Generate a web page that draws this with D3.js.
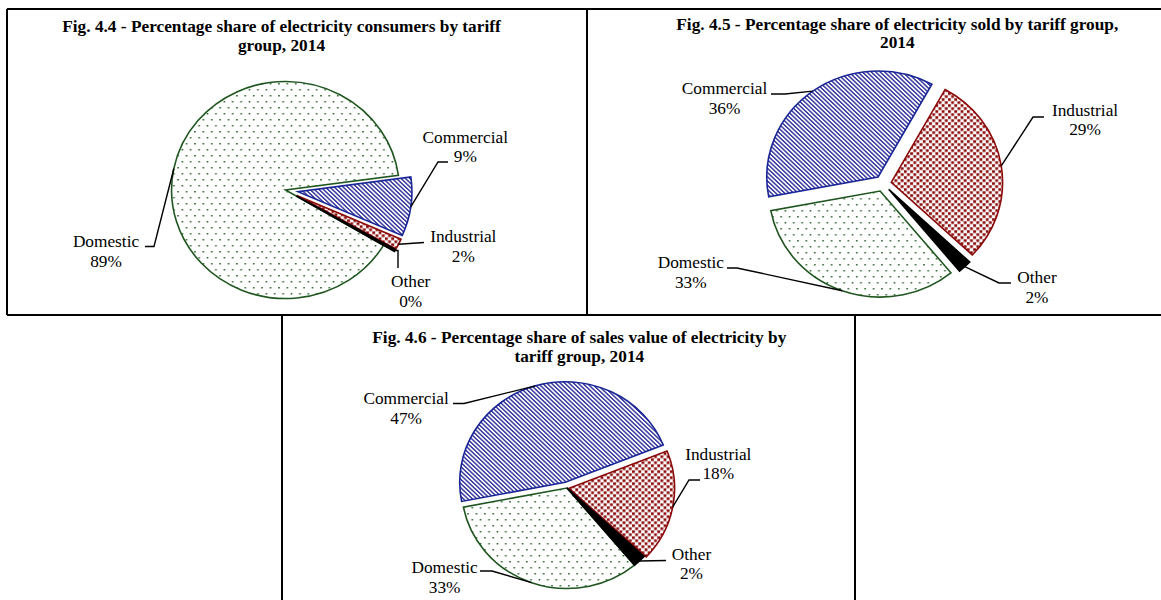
<!DOCTYPE html>
<html><head><meta charset="utf-8">
<script src="https://cdn.jsdelivr.net/npm/d3@7"></script>
<style>
body{margin:0;background:#fff}
text{font-family:"Liberation Serif","Times New Roman",serif;fill:#000}
</style>
</head><body>
<svg id="c" width="1161" height="600"></svg>
<script>
// ---- data ----
const categories = ["Domestic", "Commercial", "Industrial", "Other"];
const consumersShare = [89.3, 8.8, 1.6, 0.3];   // Fig 4.4 (labels round to 89, 9, 2, 0)
const soldShare = [33, 36, 29, 2];               // Fig 4.5
const salesValueShare = [33, 47, 18, 2];         // Fig 4.6
const titleLines44 = ["Fig. 4.4 - Percentage share of electricity consumers by tariff", "group, 2014"];
const titleLines45 = ["Fig. 4.5 - Percentage share of electricity sold by tariff group,", "2014"];
const titleLines46 = ["Fig. 4.6 - Percentage share of sales value of electricity by", "tariff group, 2014"];

// ---- layout / style ----
const SX = 1.05; // horizontal stretch of the original picture
const FS = 17.3;
const svg = d3.select("#c");
const defs = svg.append("defs");

// patterns
const pDom = defs.append("pattern").attr("id", "pDom").attr("patternUnits", "userSpaceOnUse")
  .attr("width", 8).attr("height", 12);
pDom.append("rect").attr("width", 8).attr("height", 12).attr("fill", "#fff");
pDom.append("rect").attr("x", 1).attr("y", 1).attr("width", 1.5).attr("height", 1.5).attr("fill", "#2a622a");
pDom.append("rect").attr("x", 5).attr("y", 7).attr("width", 1.5).attr("height", 1.5).attr("fill", "#2a622a");

const pCom = defs.append("pattern").attr("id", "pCom").attr("patternUnits", "userSpaceOnUse")
  .attr("width", 3).attr("height", 3).attr("patternTransform", "rotate(-45)");
pCom.append("rect").attr("width", 3).attr("height", 3).attr("fill", "#fff");
pCom.append("rect").attr("x", 0).attr("y", 0).attr("width", 1.4).attr("height", 3).attr("fill", "#33339a");

const pInd = defs.append("pattern").attr("id", "pInd").attr("patternUnits", "userSpaceOnUse")
  .attr("width", 6).attr("height", 6);
pInd.append("rect").attr("width", 6).attr("height", 6).attr("fill", "#fff");
pInd.append("rect").attr("x", 0).attr("y", 0).attr("width", 2.7).attr("height", 2.7).attr("fill", "#8b0d0d");
pInd.append("rect").attr("x", 3).attr("y", 3).attr("width", 2.7).attr("height", 2.7).attr("fill", "#8b0d0d");

const fills = d3.scaleOrdinal().domain(categories).range(["url(#pDom)", "url(#pCom)", "url(#pInd)", "#000"]);
const strokes = d3.scaleOrdinal().domain(categories).range(["#1f561f", "#1a2696", "#8b0a0a", "#000"]);

// frames
const frame = svg.append("g").attr("stroke", "#000").attr("stroke-width", 2).attr("fill", "none");
[[7, 9, 1161, 9], [7, 9, 7, 315], [7, 315, 1161, 315], [587, 9, 587, 315], [282, 315, 282, 600], [855, 315, 855, 600]]
  .forEach(l => frame.append("line").attr("x1", l[0]).attr("y1", l[1]).attr("x2", l[2]).attr("y2", l[3]));

const charts = [
  { values: consumersShare, title: titleLines44, tx: 281.5, ty: [31.7, 50.5],
    cx: 285.5, cy: 190, r: 108.5, start: 120.7, explode: [0, 12, 12, 12],
    labels: [[106, 247.3], [465.3, 142.7], [463.3, 242.3], [410.7, 287.3]],
    stubs: [[[154, 246.5], [145, 246.5]], [[438, 162], [448, 162]], [[424, 242.5]], [[398, 250.5], [398, 268]]] },
  { values: soldShare, title: titleLines45, tx: 897.3, ty: [29.8, 48.3],
    cx: 883, cy: 183.5, r: 106, start: 140.5, explode: [8, 8, 8, 8],
    labels: [[690.8, 268.3], [724.5, 94.3], [1085, 115.7], [1037, 283.3]],
    stubs: [[[737, 268], [727, 268]], [[785, 94], [771, 94]], [[1033, 117], [1044, 117]], [[999, 283], [1011, 283]]] },
  { values: salesValueShare, title: titleLines46, tx: 579.3, ty: [343.3, 361.7],
    cx: 567, cy: 488, r: 100.5, start: 140.2, explode: [0, 6, 2, 0],
    labels: [[444.6, 573.3], [406.1, 404.3], [718.3, 460], [691.5, 560]],
    stubs: [[[492, 571], [480, 571]], [[464, 403.5], [453, 403.5]], [[689, 480], [700, 480]], [[666, 560.5]]] }
];

const rad = Math.PI / 180;

charts.forEach(ch => {
  const pieGen = d3.pie().value(d => d.v).sort(null)
    .startAngle(ch.start * rad).endAngle(ch.start * rad + 2 * Math.PI);
  const slices = pieGen(ch.values.map((v, i) => ({ cat: categories[i], v })));
  const arc = d3.arc().innerRadius(0).outerRadius(ch.r);

  const g = svg.append("g").attr("transform", `translate(${ch.cx},${ch.cy}) scale(${SX},1)`);
  slices.forEach((s, i) => {
    const mid = (s.startAngle + s.endAngle) / 2;
    const e = ch.explode[i];
    g.append("path")
      .attr("d", arc(s))
      .attr("transform", `translate(${e * Math.sin(mid)},${-e * Math.cos(mid)})`)
      .attr("fill", fills(s.data.cat))
      .attr("stroke", strokes(s.data.cat))
      .attr("stroke-width", 1.6)
      .attr("vector-effect", "non-scaling-stroke");
  });

  // leader lines
  slices.forEach((s, i) => {
    const mid = (s.startAngle + s.endAngle) / 2;
    const rr = ch.r + ch.explode[i];
    const p0 = [ch.cx + SX * rr * Math.sin(mid), ch.cy - rr * Math.cos(mid)];
    const pts = [p0].concat(ch.stubs[i]);
    svg.append("path").attr("d", d3.line()(pts)).attr("fill", "none")
      .attr("stroke", "#000").attr("stroke-width", 1.4);
  });

  // labels
  slices.forEach((s, i) => {
    const [lx, ly] = ch.labels[i];
    const t = svg.append("text").attr("text-anchor", "middle").attr("font-size", FS);
    t.append("tspan").attr("x", lx).attr("y", ly).text(s.data.cat);
    t.append("tspan").attr("x", lx).attr("y", ly + 19.3).text(Math.round(s.data.v) + "%");
  });

  // title
  const tt = svg.append("text").attr("text-anchor", "middle").attr("font-size", FS).attr("font-weight", "bold");
  ch.title.forEach((line, k) => tt.append("tspan").attr("x", ch.tx).attr("y", ch.ty[k]).text(line));
});
</script>
</body></html>
